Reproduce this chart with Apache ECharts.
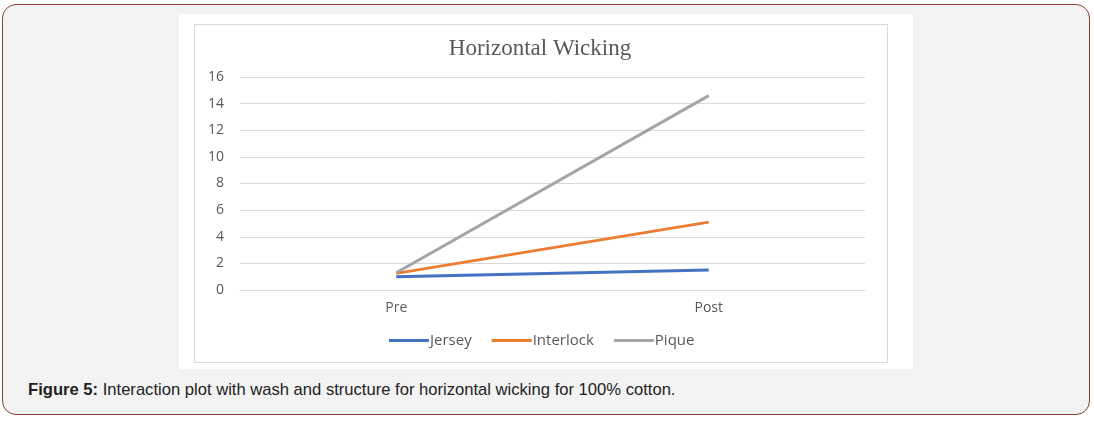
<!DOCTYPE html>
<html>
<head>
<meta charset="utf-8">
<script src="https://cdn.jsdelivr.net/npm/echarts@6/dist/echarts.min.js"></script>
<style>
  html, body { margin: 0; padding: 0; background: #fff; }
  body { width: 1094px; height: 422px; position: relative; overflow: hidden; }
  #panel {
    position: absolute; left: 2px; top: 4px; width: 1086px; height: 409px;
    border: 1px solid #8c3e2e; border-radius: 14px; background: #f3f3f3;
  }
  #figure { position: absolute; left: 179px; top: 14px; width: 734px; height: 355px; background: #fff; }
  #frame { position: absolute; left: 194px; top: 24px; width: 692px; height: 337px; border: 1px solid #d9d9d9; }
  #caption {
    position: absolute; left: 28px; top: 380px;
    font-family: "Liberation Sans", Arial, sans-serif; font-size: 16.6px; color: #222;
  }
  #chart { position: absolute; left: 0; top: 0; width: 1094px; height: 422px; }
</style>
</head>
<body>
<div id="panel"></div>
<div id="figure"></div>
<div id="frame"></div>
<div id="caption"><b>Figure 5:</b> Interaction plot with wash and structure for horizontal wicking for 100% cotton.</div>
<div id="chart"></div>
<script>
// wash condition on the x axis
const washStages = ['Pre', 'Post'];

// horizontal wicking per structure
const jersey = [1.0, 1.5];
const interlock = [1.25, 5.1];
const pique = [1.3, 14.6];

const chart = echarts.init(document.getElementById('chart'), null, { renderer: 'canvas' });

const labelFont = '"Open Sans", "Noto Sans", sans-serif';

const lineSeries = (name, data, color) => ({
  name: name,
  type: 'line',
  data: data,
  symbol: 'none',
  itemStyle: { color: color },
  lineStyle: { color: color, width: 3 }
});

const option = {
  backgroundColor: 'transparent',
  animation: false,
  title: {
    text: 'Horizontal Wicking',
    left: 535,
    textAlign: 'center',
    top: 32,
    textStyle: {
      fontFamily: '"Liberation Serif", "Times New Roman", serif',
      fontWeight: 'normal',
      fontSize: 23,
      color: '#595959'
    }
  },
  legend: {
    left: 384,
    top: 328,
    itemWidth: 40,
    itemHeight: 3,
    itemGap: 20,
    icon: 'rect',
    textStyle: {
      fontFamily: labelFont,
      fontSize: 15,
      color: '#595959',
      padding: [0, 0, 0, -4]
    },
    data: ['Jersey', 'Interlock', 'Pique']
  },
  grid: {
    left: 240,
    right: 229,
    top: 77,
    bottom: 132,
    containLabel: false
  },
  xAxis: {
    type: 'category',
    data: washStages,
    boundaryGap: true,
    axisLine: { show: true, lineStyle: { color: '#d9d9d9', width: 1 } },
    axisTick: { show: false },
    axisLabel: {
      margin: 11,
      fontFamily: labelFont,
      fontSize: 14,
      color: '#595959'
    }
  },
  yAxis: {
    type: 'value',
    min: 0,
    max: 16,
    interval: 2,
    axisLine: { show: false },
    axisTick: { show: false },
    splitLine: { lineStyle: { color: '#d9d9d9', width: 1 } },
    axisLabel: {
      margin: 16,
      fontFamily: labelFont,
      fontSize: 14,
      color: '#595959'
    }
  },
  series: [
    lineSeries('Jersey', jersey, '#4472C4'),
    lineSeries('Interlock', interlock, '#ED7D31'),
    lineSeries('Pique', pique, '#A5A5A5')
  ]
};

chart.setOption(option);
</script>
</body>
</html>
